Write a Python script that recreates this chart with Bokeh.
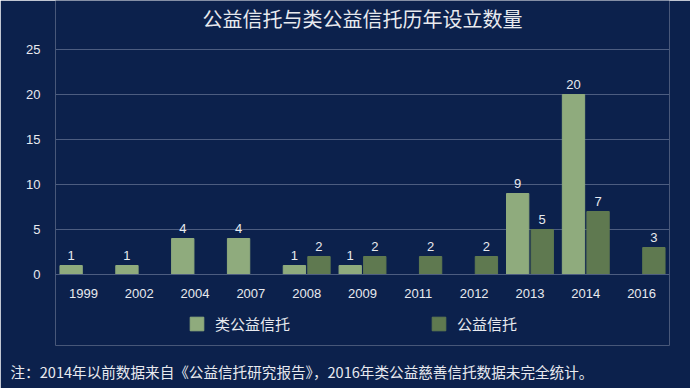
from bokeh.plotting import figure
from bokeh.models import ColumnDataSource, LabelSet, Label, Legend, LegendItem, Title, FactorRange, Range1d
from bokeh.transform import dodge
from bokeh.core.properties import value
from bokeh.embed import file_html
from bokeh.resources import INLINE

years = ["1999", "2002", "2004", "2007", "2008", "2009", "2011", "2012", "2013", "2014", "2016"]
quasi_charity = [1, 1, 4, 4, 1, 1, None, None, 9, 20, None]      # 类公益信托
charity_trust = [None, None, None, None, 2, 2, 2, 2, 5, 7, 3]    # 公益信托
series_names = ["类公益信托", "公益信托"]
y_ticks = [0, 5, 10, 15, 20, 25]
title_text = "公益信托与类公益信托历年设立数量"
note_text = "注：2014年以前数据来自《公益信托研究报告》，2016年类公益慈善信托数据未完全统计。"

BG = "#0c214c"
LIGHT = "#8fab7d"
DARK = "#5f7950"
TXT = "#e8eaef"
GRID = "#4d5d80"
CJK = "Noto Sans CJK SC"
NUM = "Liberation Sans"

def src(vals):
    xs = [y for y, v in zip(years, vals) if v is not None]
    vs = [v for v in vals if v is not None]
    return ColumnDataSource(dict(year=xs, val=vs, lab=[str(v) for v in vs]))

s1 = src(quasi_charity)
s2 = src(charity_trust)

# 9 px per unit; frame spans from the top of the page down below the zero line
p = figure(x_range=FactorRange(*years), y_range=Range1d(-71 / 9.0, 274 / 9.0),
           frame_width=614, frame_height=345,
           output_backend="svg", toolbar_location=None,
           min_border_left=55, min_border_right=21, min_border_top=0, min_border_bottom=43)
p.background_fill_color = BG
p.border_fill_color = BG
p.outline_line_color = None

p.add_layout(Label(x=307, y=327, x_units="screen", y_units="screen", text=title_text,
                   text_align="center", text_baseline="middle", text_color=TXT,
                   text_font=CJK, text_font_size="20px"))

r1 = p.vbar(x=dodge("year", -0.22, range=p.x_range), top="val", width=0.4, source=s1,
            fill_color=LIGHT, line_color=LIGHT)
r2 = p.vbar(x=dodge("year", 0.22, range=p.x_range), top="val", width=0.4, source=s2,
            fill_color=DARK, line_color=DARK)

for s, off in ((s1, -0.22), (s2, 0.22)):
    p.add_layout(LabelSet(x=dodge("year", off, range=p.x_range), y="val", text="lab", source=s,
                          y_offset=6, text_align="center", text_baseline="bottom",
                          text_color=TXT, text_font=value(NUM), text_font_size="13px"))

p.xaxis.fixed_location = 0
p.xaxis.axis_line_color = GRID
p.xaxis.axis_line_width = 1.2
p.xaxis.major_tick_line_color = None
p.xaxis.minor_tick_line_color = None
p.xaxis.major_label_text_color = TXT
p.xaxis.major_label_text_font = NUM
p.xaxis.major_label_text_font_size = "13px"
p.xaxis.major_label_standoff = 8
p.xgrid.grid_line_color = None

p.yaxis.ticker = y_ticks
p.yaxis.axis_line_color = None
p.yaxis.major_tick_line_color = None
p.yaxis.minor_tick_line_color = None
p.yaxis.major_label_text_color = TXT
p.yaxis.major_label_text_font = NUM
p.yaxis.major_label_text_font_size = "13px"
p.yaxis.major_label_standoff = 9
p.ygrid.grid_line_color = GRID
p.ygrid.grid_line_width = 1.2

legend = Legend(items=[LegendItem(label=series_names[0], renderers=[r1]),
                       LegendItem(label=series_names[1], renderers=[r2])],
                orientation="horizontal", location=(133, 11),
                background_fill_alpha=0, border_line_color=None,
                label_text_color=TXT, label_text_font=CJK, label_text_font_size="15px",
                glyph_width=17, glyph_height=17, label_height=17, label_standoff=10,
                spacing=140, padding=0, margin=0)
p.add_layout(legend, "center")

foot = Title(text=note_text, align="left", text_color=TXT, text_font=CJK,
             text_font_size="14.6px", text_font_style="normal", offset=-45, standoff=26)
p.add_layout(foot, "below")

html = file_html(p, INLINE)
html = html.replace("<body>", '<body style="background:%s">' % BG, 1)
open("out.html", "w").write(html)
